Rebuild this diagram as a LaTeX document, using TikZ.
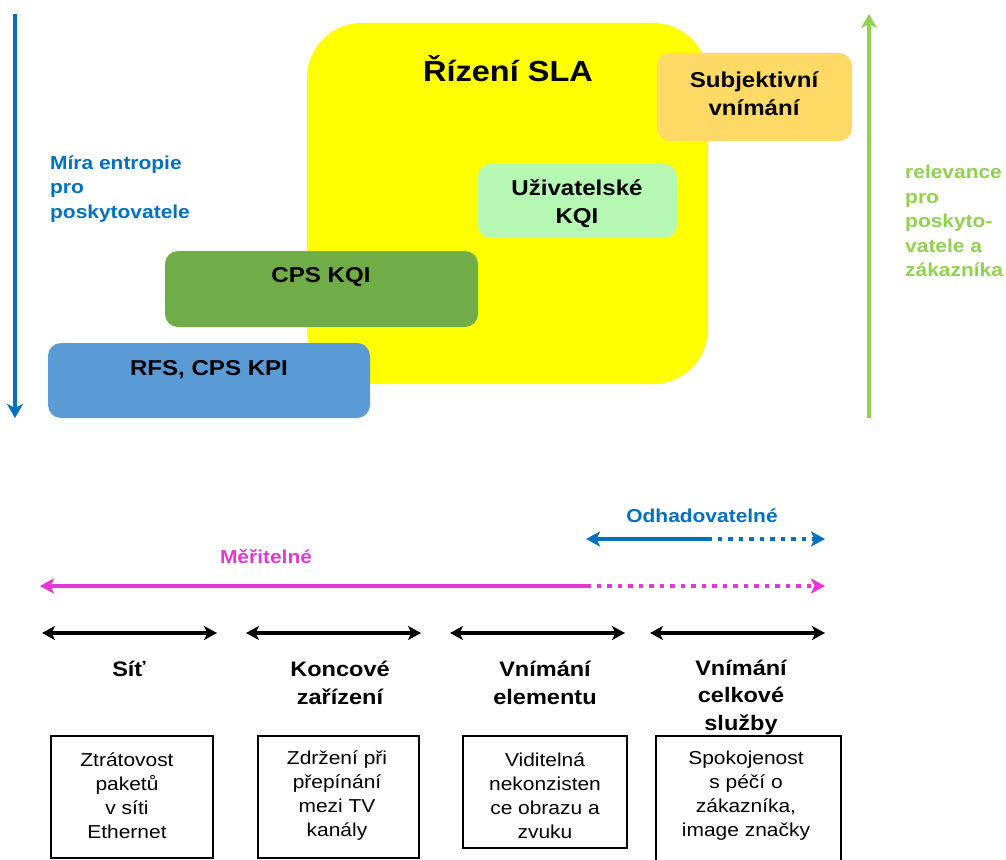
\documentclass[tikz,border=0pt]{standalone}
\usepackage{fontspec}
\setmainfont[FakeStretch=1.12]{Liberation Sans}
\usetikzlibrary{arrows.meta}
\definecolor{entropyblue}{HTML}{0070C0}
\definecolor{relgreen}{HTML}{92D050}
\definecolor{slayellow}{HTML}{FFFF00}
\definecolor{subjorange}{HTML}{FFD966}
\definecolor{userkqi}{RGB}{180,248,180}
\definecolor{cpsgreen}{HTML}{70AD47}
\definecolor{rfsblue}{HTML}{5B9BD5}
\definecolor{measmag}{RGB}{228,55,214}
\newcommand\fsz[2]{\fontsize{#1}{#2}\selectfont}
\begin{document}
\begin{tikzpicture}[x=1pt,y=-1pt,
  layer/.style={draw=none, inner sep=0pt, rounded corners=13pt},
  layertext/.style={inner sep=0pt, align=center, font=\fsz{21.5}{28}\bfseries},
  sidetext/.style={inner sep=0pt, align=left, anchor=west, font=\fsz{18.7}{24.5}\bfseries},
  bigarrow/.style={line width=4.5pt, -{Stealth[length=14pt,width=16pt,inset=4pt]}},
  rangearrow/.style={line width=4pt, {Stealth[length=13pt,width=14pt,inset=3.5pt]}-{Stealth[length=13pt,width=14pt,inset=3.5pt]}},
  halftip/.style={line width=4.5pt, -{Stealth[length=14pt,width=15pt,inset=3.5pt]}},
  dots/.style={line cap=butt, dash pattern=on 4.5pt off 6pt},
  rangelabel/.style={inner sep=0pt, align=center, font=\fsz{21}{27.5}\bfseries},
  examplebox/.style={draw=black, line width=1.3pt, inner sep=0pt},
  exampletext/.style={inner sep=0pt, align=center, font=\fsz{18.7}{24}}]
\useasboundingbox (0,0) rectangle (1006,859);

% --- layered indicator model ---
\node[layer, fill=slayellow, rounded corners=55pt, minimum width=401pt, minimum height=361pt] (sla) at (507.5,203.5) {};
\node[layertext, font=\fsz{29}{34}\bfseries] (slatext) at (508,69) {Řízení SLA};
\node[layer, fill=subjorange, minimum width=195pt, minimum height=88pt] (subj) at (754.5,97) {};
\node[layertext] (subjtext) at (754,94) {Subjektivní\\vnímání};
\node[layer, fill=userkqi, minimum width=199pt, minimum height=74pt] (ukqi) at (577.5,201) {};
\node[layertext] (ukqitext) at (577,204) {Uživatelské\\KQI};
\node[layer, fill=cpsgreen, minimum width=313pt, minimum height=76pt] (cps) at (321.5,289) {};
\node[layertext] (cpstext) at (321,277) {CPS KQI};
\node[layer, fill=rfsblue, minimum width=322pt, minimum height=75pt] (rfs) at (209,380.5) {};
\node[layertext] (rfstext) at (209,370) {RFS, CPS KPI};

% --- side axes ---
\coordinate (entTop) at (15,14);
\coordinate (entBot) at (15,418);
\draw[bigarrow, entropyblue] (entTop) -- (entBot);
\node[sidetext, text=entropyblue] (enttext) at (50,189) {Míra entropie\\pro\\poskytovatele};
\coordinate (relBot) at (869,418);
\coordinate (relTop) at (869,14);
\draw[bigarrow, relgreen] (relBot) -- (relTop);
\node[sidetext, text=relgreen] (reltext) at (905,221) {relevance\\pro\\poskyto-\\vatele a\\zákazníka};

% --- estimable / measurable ranges ---
\node[rangelabel, font=\fsz{18.7}{24}\bfseries, text=entropyblue] (esttext) at (702,516) {Odhadovatelné};
\coordinate (estL) at (586,539);
\coordinate (estM) at (707,539);
\coordinate (estR) at (825,539);
\draw[halftip, entropyblue] (estM) -- (estL);
\draw[halftip, entropyblue, dots] (estM) -- (estR);
\node[rangelabel, font=\fsz{18.7}{24}\bfseries, text=measmag] (meastext) at (266,557) {Měřitelné};
\coordinate (measL) at (40,586);
\coordinate (measM) at (586,586);
\coordinate (measR) at (825,586);
\draw[halftip, measmag] (measM) -- (measL);
\draw[halftip, measmag, dots] (measM) -- (measR);

% --- domains ---
\coordinate (d1l) at (42,633);  \coordinate (d1r) at (217,633);
\coordinate (d2l) at (246,633); \coordinate (d2r) at (421,633);
\coordinate (d3l) at (450,633); \coordinate (d3r) at (625,633);
\coordinate (d4l) at (650,633); \coordinate (d4r) at (825,633);
\draw[rangearrow] (d1l) -- (d1r);
\draw[rangearrow] (d2l) -- (d2r);
\draw[rangearrow] (d3l) -- (d3r);
\draw[rangearrow] (d4l) -- (d4r);
\node[rangelabel] (dom1) at (129,669) {Síť};
\node[rangelabel] (dom2) at (340,683) {Koncové\\zařízení};
\node[rangelabel] (dom3) at (545,683) {Vnímání\\elementu};
\node[rangelabel] (dom4) at (741,697) {Vnímání\\celkové\\služby};

% --- examples ---
\node[examplebox, minimum width=162pt, minimum height=122pt] (ex1) at (132,797) {};
\node[exampletext] (ex1text) at (127,796) {Ztrátovost\\paketů\\v síti\\Ethernet};
\node[examplebox, minimum width=161pt, minimum height=122pt] (ex2) at (338.5,797) {};
\node[exampletext] (ex2text) at (337,796) {Zdržení při\\přepínání\\mezi TV\\kanály};
\node[examplebox, minimum width=164pt, minimum height=112pt] (ex3) at (545,792) {};
\node[exampletext] (ex3text) at (545,796) {Viditelná\\nekonzisten\\ce obrazu a\\zvuku};
\node[examplebox, minimum width=185pt, minimum height=130pt] (ex4) at (748.5,801) {};
\node[exampletext] (ex4text) at (746,796) {Spokojenost\\s péčí o\\zákazníka,\\image značky};
\end{tikzpicture}
\end{document}
